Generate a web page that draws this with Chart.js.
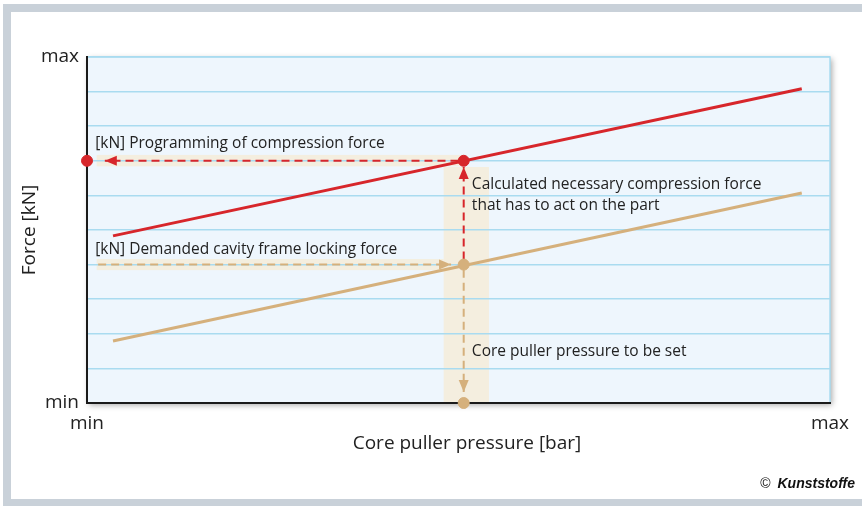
<!DOCTYPE html>
<html><head><meta charset="utf-8">
<script src="https://cdn.jsdelivr.net/npm/chart.js@4"></script>
<style>html,body{margin:0;padding:0;background:#fff;}canvas{display:block;}</style>
</head><body><canvas id="c" width="862" height="506"></canvas>
<script>
// ---- data (normalized units: 0 = min, 10 = max) ----
const xTickLabels = {0: 'min', 10: 'max'};
const yTickLabels = {0: 'min', 10: 'max'};
const xTitle = 'Core puller pressure [bar]';
const yTitle = 'Force [kN]';
const redLine = [[0.35, 4.83], [9.62, 9.08]];          // compression force
const tanLine = [[0.35, 1.79], [9.62, 6.07]];          // locking force
const redPoints = [[0, 7.0], [5.07, 7.0]];
const tanPoints = [[5.07, 4.0], [5.07, 0]];
const redArrowH = [[5.0, 7.0], [0.24, 7.0]];
const redArrowV = [[5.07, 4.15], [5.07, 6.82]];
const tanArrowH = [[0.15, 4.0], [4.9, 4.0]];
const tanArrowV = [[5.07, 3.85], [5.07, 0.32]];
const bands = [
  [4.80, 5.41, 0, 6.82],
  [0.13, 5.07, 6.84, 7.17],
  [0.13, 4.80, 3.84, 4.16]
];
const notes = [
  ['[kN] Programming of compression force', 0.11, 7.51],
  ['[kN] Demanded cavity frame locking force', 0.11, 4.42],
  ['Calculated necessary compression force', 5.18, 6.30],
  ['that has to act on the part', 5.18, 5.72],
  ['Core puller pressure to be set', 5.18, 1.50]
];

const RED = '#d7262b', TAN = '#d5b07c', BAND = '#f4eedf';
const FONT = '"Open Sans", sans-serif';
const pts = a => a.map(p => ({x: p[0], y: p[1]}));

const bgPlugin = {
  id: 'bg',
  beforeDraw(chart) {
    const {ctx, chartArea: ca, scales: {x, y}} = chart;
    ctx.save();
    ctx.fillStyle = '#c9d1d9';
    ctx.fillRect(3, 4, 859, 8);
    ctx.fillRect(3, 4, 8, 502);
    ctx.fillRect(3, 499, 859, 7);
    ctx.shadowColor = 'rgba(0,0,0,0.35)';
    ctx.shadowBlur = 6; ctx.shadowOffsetX = 2; ctx.shadowOffsetY = 2;
    ctx.fillStyle = '#eef6fd';
    ctx.fillRect(ca.left, ca.top, ca.right - ca.left, ca.bottom - ca.top);
    ctx.restore();
    ctx.save();
    ctx.strokeStyle = '#a9dbf0'; ctx.lineWidth = 1.5;
    ctx.strokeRect(ca.left, ca.top, ca.right - ca.left, ca.bottom - ca.top);
    ctx.fillStyle = BAND;
    bands.forEach(b => {
      const x0 = x.getPixelForValue(b[0]), x1 = x.getPixelForValue(b[1]);
      const y0 = y.getPixelForValue(b[3]), y1 = y.getPixelForValue(b[2]);
      ctx.fillRect(x0, y0, x1 - x0, y1 - y0);
    });
    ctx.restore();
  },
  afterDatasetsDraw(chart) {
    const {ctx, scales: {x, y}} = chart;
    chart.data.datasets.forEach((ds, i) => {
      if (!ds.arrow) return;
      const d = chart.getDatasetMeta(i).data;
      const a = d[d.length - 2], b = d[d.length - 1];
      const ang = Math.atan2(b.y - a.y, b.x - a.x);
      ctx.save();
      ctx.translate(b.x, b.y); ctx.rotate(ang);
      ctx.beginPath(); ctx.moveTo(0, 0); ctx.lineTo(-12, -5); ctx.lineTo(-12, 5); ctx.closePath();
      ctx.fillStyle = ds.borderColor; ctx.fill();
      ctx.restore();
    });
    ctx.save();
    ctx.fillStyle = '#222'; ctx.font = '15.5px ' + FONT; ctx.textBaseline = 'middle';
    notes.forEach(n => ctx.fillText(n[0], x.getPixelForValue(n[1]), y.getPixelForValue(n[2])));
    ctx.restore();
  },
  afterDraw(chart) {
    const {ctx} = chart;
    ctx.save();
    ctx.fillStyle = '#222'; ctx.textBaseline = 'middle'; ctx.textAlign = 'center';
    ctx.font = '19px ' + FONT;
    ctx.fillText(xTitle, 467, 444);
    ctx.fillStyle = '#111'; ctx.textAlign = 'right';
    ctx.font = 'bold italic 14px "Liberation Sans", sans-serif';
    ctx.fillText('Kunststoffe', 855, 484);
    const w = ctx.measureText('Kunststoffe').width;
    ctx.font = '14px "Liberation Sans", sans-serif';
    ctx.fillText('\u00A9', 855 - w - 7, 484);
    ctx.restore();
  }
};

const lineDs = (data, color, opts) => Object.assign({
  data: pts(data), showLine: true, borderColor: color, backgroundColor: color,
  borderWidth: 3, pointRadius: 0, pointHoverRadius: 0, fill: false
}, opts || {});
const dashDs = (data, color) => lineDs(data, color, {borderWidth: 2, borderDash: [8, 5], arrow: true});

new Chart(document.getElementById('c'), {
  type: 'scatter',
  data: {
    datasets: [
      {data: pts(redPoints), backgroundColor: RED, borderColor: RED, pointRadius: 5.5, showLine: false, clip: false},
      {data: pts(tanPoints), backgroundColor: TAN, borderColor: TAN, pointRadius: 5.5, showLine: false, clip: false},
      dashDs(redArrowH, RED),
      dashDs(redArrowV, RED),
      dashDs(tanArrowH, TAN),
      dashDs(tanArrowV, TAN),
      lineDs(redLine, RED),
      lineDs(tanLine, TAN)
    ]
  },
  options: {
    responsive: false, animation: false,
    layout: {padding: {left: 0, top: 57, right: 32, bottom: 0}},
    plugins: {legend: {display: false}, tooltip: {enabled: false}},
    scales: {
      x: {
        type: 'linear', min: 0, max: 10,
        afterFit: s => { s.height = 103; },
        grid: {display: false, drawTicks: false},
        border: {color: '#1a1a1a', width: 2},
        ticks: {stepSize: 10, padding: 9, color: '#222', font: {size: 19, family: FONT},
          callback: v => xTickLabels[v] || ''},
        title: {display: false, text: xTitle}
      },
      y: {
        type: 'linear', min: 0, max: 10,
        afterFit: s => { s.width = 87; },
        grid: {color: '#a9dbf0', lineWidth: 1.5, drawTicks: false},
        border: {color: '#1a1a1a', width: 2},
        ticks: {stepSize: 1, padding: 8, color: '#222', font: {size: 19, family: FONT},
          callback: v => yTickLabels[v] || ''},
        title: {display: true, text: yTitle, color: '#222',
          font: {size: 19, family: FONT}, padding: {top: 18, bottom: 0}}
      }
    }
  },
  plugins: [bgPlugin]
});
</script></body></html>
